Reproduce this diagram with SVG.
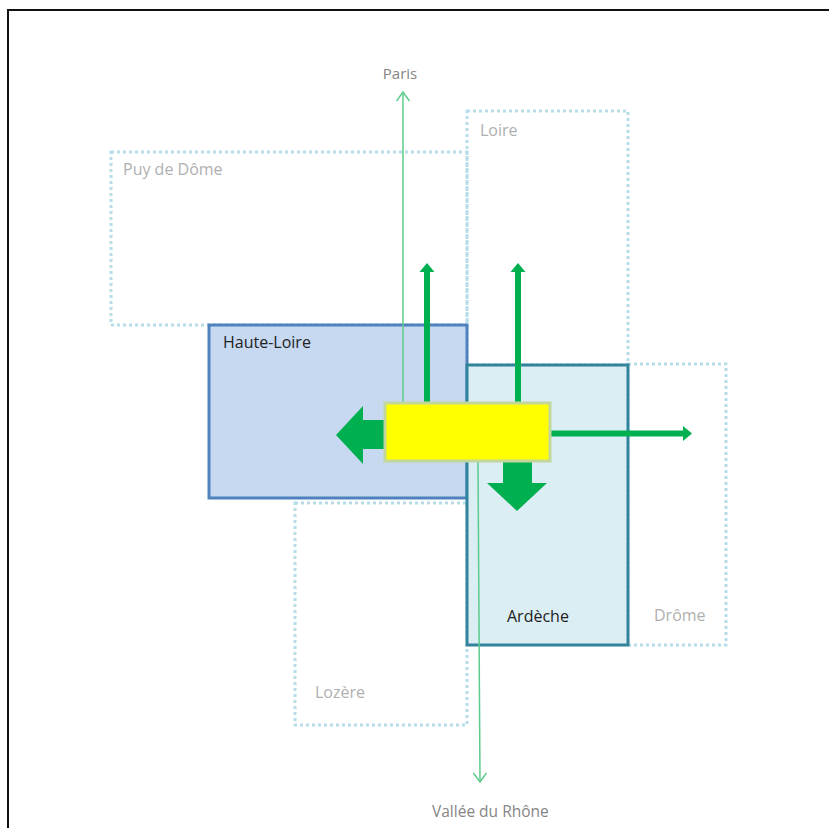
<svg xmlns="http://www.w3.org/2000/svg" width="829" height="828" viewBox="0 0 829 828">
<style>
.dot{fill:none;stroke:#b7dde8;stroke-width:3;stroke-dasharray:3 3}
.lbl{font-family:"Open Sans","Liberation Sans",sans-serif;font-size:16px}
.faint{fill:#b0b0b0}
.dark{fill:#222}
.thin{fill:none;stroke:#5ccb8c;stroke-width:1.5}
.g{fill:#00b050}
</style>
<defs>
<marker id="open" viewBox="0 0 11 14" refX="10" refY="7" markerWidth="11" markerHeight="14" markerUnits="userSpaceOnUse" orient="auto">
<path d="M1,0.5 L10,7 L1,13.5" fill="none" stroke="#5ccb8c" stroke-width="1.5"/>
</marker>
</defs>
<rect x="0" y="0" width="829" height="828" fill="#fff"/>
<rect x="8" y="10" width="840" height="840" fill="none" stroke="#111" stroke-width="2"/>

<g id="puy-de-dome"><rect class="dot" x="111" y="152" width="356" height="173"/><text class="lbl faint" x="123" y="175">Puy de Dôme</text></g>
<g id="loire"><rect class="dot" x="467" y="111" width="161" height="254"/><text class="lbl faint" x="480" y="136">Loire</text></g>
<g id="drome"><rect class="dot" x="628" y="364" width="98" height="281"/><text class="lbl faint" x="654" y="621">Drôme</text></g>
<g id="lozere"><rect class="dot" x="295" y="503" width="172" height="222"/><text class="lbl faint" x="315" y="698">Lozère</text></g>
<g id="haute-loire"><rect x="209" y="325" width="258" height="173" fill="#c6d9f1" stroke="#4f81bd" stroke-width="3"/><text class="lbl dark" x="223" y="348">Haute-Loire</text></g>
<g id="ardeche"><rect x="467" y="365" width="161" height="280" fill="#dbeef4" stroke="#31849b" stroke-width="3"/><text class="lbl dark" x="507" y="622">Ardèche</text></g>

<g id="connectors">
<line class="thin" x1="403" y1="403" x2="403" y2="92" marker-end="url(#open)"/>
<line class="thin" x1="478" y1="462" x2="480" y2="782" marker-end="url(#open)"/>
<path class="g" d="M424,403 V272 H419.5 L427,263 L434.5,272 H430 V403 Z"/>
<path class="g" d="M515,403 V272 H510.5 L518,263 L525.5,272 H521 V403 Z"/>
<path class="g" d="M550,430.5 H683 V426 L692,433.5 L683,441 V436.5 H550 Z"/>
<path class="g" d="M387,420 H363 V406 L336,435 L363,464 V449 H387 Z"/>
<path class="g" d="M503,461 V483 H487 L517,511 L547,483 H532 V461 Z"/>
</g>

<g id="center"><rect x="385" y="403" width="165" height="58" fill="#ffff00" stroke="#c3d69b" stroke-width="3"/></g>

<g id="paris"><text class="lbl" x="400" y="79" text-anchor="middle" fill="#858585" style="font-size:15px">Paris</text></g>
<g id="vallee"><text class="lbl" x="432" y="817" fill="#858585" style="font-size:15.5px">Vallée du Rhône</text></g>
</svg>
